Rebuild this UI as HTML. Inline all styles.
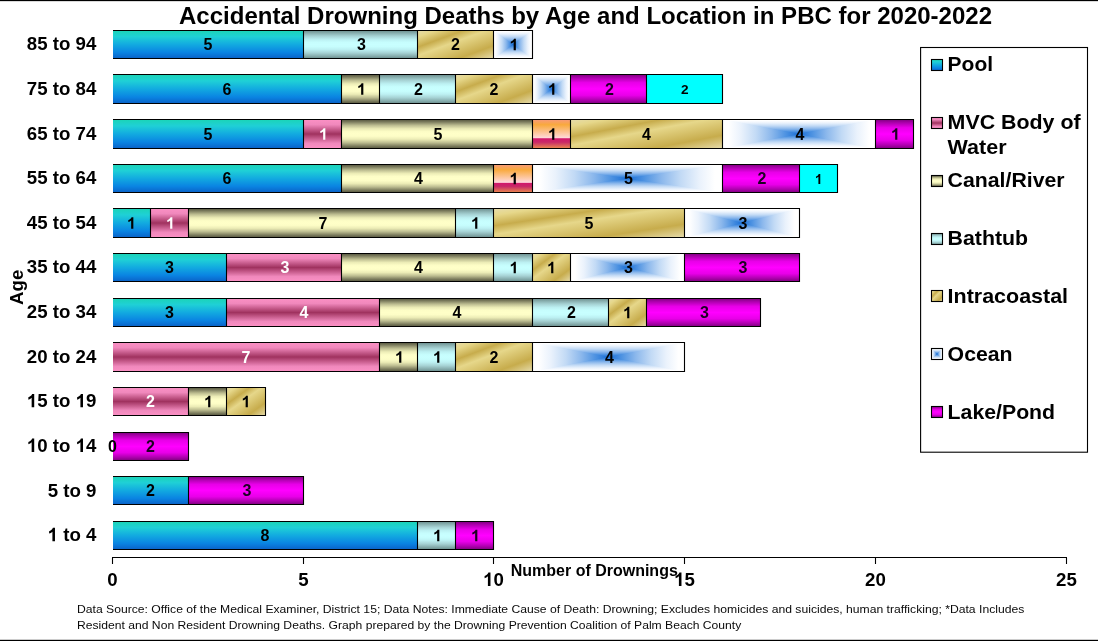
<!DOCTYPE html>
<html><head><meta charset="utf-8"><title>Chart</title>
<style>html,body{margin:0;padding:0;background:#fff}svg{display:block;will-change:transform}</style></head>
<body>
<svg width="1098" height="641" viewBox="0 0 1098 641" font-family="Liberation Sans, sans-serif" font-weight="bold">
<defs><linearGradient id="pool" x1="0" y1="0" x2="0" y2="1"><stop offset="0" stop-color="#1bd4b6"/><stop offset="0.22" stop-color="#1fd0d6"/><stop offset="0.5" stop-color="#12aae0"/><stop offset="0.78" stop-color="#0a84e2"/><stop offset="1" stop-color="#0a62c8"/></linearGradient><linearGradient id="mvc" x1="0" y1="0" x2="0" y2="1"><stop offset="0" stop-color="#fb90c4"/><stop offset="0.18" stop-color="#f088bc"/><stop offset="0.5" stop-color="#a0325f"/><stop offset="0.82" stop-color="#f088bc"/><stop offset="1" stop-color="#fb90c4"/></linearGradient><linearGradient id="canal" x1="0" y1="0" x2="0" y2="1"><stop offset="0" stop-color="#55553e"/><stop offset="0.08" stop-color="#7a7a5c"/><stop offset="0.2" stop-color="#bcbc90"/><stop offset="0.32" stop-color="#ececb6"/><stop offset="0.42" stop-color="#fdfdc6"/><stop offset="0.5" stop-color="#ffffc8"/><stop offset="0.58" stop-color="#fdfdc6"/><stop offset="0.68" stop-color="#ececb6"/><stop offset="0.8" stop-color="#bcbc90"/><stop offset="0.92" stop-color="#7a7a5c"/><stop offset="1" stop-color="#55553e"/></linearGradient><linearGradient id="bath" x1="0" y1="0" x2="0" y2="1"><stop offset="0" stop-color="#6a8c8c"/><stop offset="0.08" stop-color="#84aaaa"/><stop offset="0.2" stop-color="#a6d2d4"/><stop offset="0.32" stop-color="#bcf0f2"/><stop offset="0.42" stop-color="#c6fdfd"/><stop offset="0.5" stop-color="#c8ffff"/><stop offset="0.58" stop-color="#c6fdfd"/><stop offset="0.68" stop-color="#bcf0f2"/><stop offset="0.8" stop-color="#a6d2d4"/><stop offset="0.92" stop-color="#84aaaa"/><stop offset="1" stop-color="#6a8c8c"/></linearGradient><linearGradient id="lake" x1="0" y1="0" x2="0" y2="1"><stop offset="0" stop-color="#800080"/><stop offset="0.12" stop-color="#b000b0"/><stop offset="0.28" stop-color="#e800e8"/><stop offset="0.5" stop-color="#ff00ff"/><stop offset="0.72" stop-color="#e800e8"/><stop offset="0.88" stop-color="#b000b0"/><stop offset="1" stop-color="#800080"/></linearGradient><linearGradient id="sun" x1="0" y1="0" x2="0" y2="1"><stop offset="0" stop-color="#f79a7c"/><stop offset="0.18" stop-color="#f9a93c"/><stop offset="0.64" stop-color="#ffd9dc"/><stop offset="0.66" stop-color="#d2176a"/><stop offset="0.78" stop-color="#c82868"/><stop offset="1" stop-color="#ea8a4e"/></linearGradient><linearGradient id="intra" x1="0" y1="0" x2="1" y2="1"><stop offset="0" stop-color="#e6dcac"/><stop offset="0.12" stop-color="#e6d78a"/><stop offset="0.3" stop-color="#c7ac4c"/><stop offset="0.45" stop-color="#e6d78a"/><stop offset="0.77" stop-color="#c7ac4c"/><stop offset="1" stop-color="#e6dcac"/></linearGradient><linearGradient id="ocH" x1="0" y1="0" x2="1" y2="0"><stop offset="0" stop-color="#ffffff"/><stop offset="0.04" stop-color="#ffffff"/><stop offset="0.12" stop-color="#eaf2fc"/><stop offset="0.22" stop-color="#c2daf5"/><stop offset="0.32" stop-color="#8cb8ec"/><stop offset="0.41" stop-color="#5094e2"/><stop offset="0.5" stop-color="#1a6fd6"/><stop offset="0.59" stop-color="#5094e2"/><stop offset="0.68" stop-color="#8cb8ec"/><stop offset="0.78" stop-color="#c2daf5"/><stop offset="0.88" stop-color="#eaf2fc"/><stop offset="0.96" stop-color="#ffffff"/><stop offset="1" stop-color="#ffffff"/></linearGradient><linearGradient id="ocV" x1="0" y1="0" x2="0" y2="1"><stop offset="0" stop-color="#ffffff"/><stop offset="0.04" stop-color="#ffffff"/><stop offset="0.12" stop-color="#eaf2fc"/><stop offset="0.22" stop-color="#c2daf5"/><stop offset="0.32" stop-color="#8cb8ec"/><stop offset="0.41" stop-color="#5094e2"/><stop offset="0.5" stop-color="#1a6fd6"/><stop offset="0.59" stop-color="#5094e2"/><stop offset="0.68" stop-color="#8cb8ec"/><stop offset="0.78" stop-color="#c2daf5"/><stop offset="0.88" stop-color="#eaf2fc"/><stop offset="0.96" stop-color="#ffffff"/><stop offset="1" stop-color="#ffffff"/></linearGradient></defs>
<rect width="1098" height="641" fill="#fff"/>
<rect x="0" y="0" width="1098" height="1.15" fill="#000"/>
<rect x="0" y="639.8" width="1098" height="1.2" fill="#000"/>
<text x="179" y="23.8" font-size="23.5" textLength="813" lengthAdjust="spacingAndGlyphs">Accidental Drowning Deaths by Age and Location in PBC for 2020-2022</text>
<text x="26.87" y="50.25" font-size="18.67" fill="#000" style="white-space:pre">85 to 94</text>
<rect x="113.00" y="30.50" width="190.50" height="28.00" fill="url(#pool)"/>
<rect x="303.50" y="30.50" width="114.00" height="28.00" fill="url(#bath)"/>
<rect x="417.50" y="30.50" width="76.00" height="28.00" fill="url(#intra)"/>
<rect x="493.50" y="30.50" width="39.00" height="28.00" fill="url(#ocH)"/><path d="M493.50 30.50L532.50 30.50L513.00 44.50L532.50 58.50L493.50 58.50L513.00 44.50Z" fill="url(#ocV)"/>
<path d="M113 30.5H533.05M113 58.5H533.05M303.50 30.5V58.5M417.50 30.5V58.5M493.50 30.5V58.5M532.50 30.5V58.5" stroke="#000" stroke-width="1.1" fill="none"/>
<text x="203.55" y="50.20" font-size="16" fill="#000" style="white-space:pre">5</text>
<text x="357.05" y="50.20" font-size="16" fill="#000" style="white-space:pre">3</text>
<text x="451.05" y="50.20" font-size="16" fill="#000" style="white-space:pre">2</text>
<path transform="translate(509.55,50.20) scale(0.007812,-0.007812)" d="M806 0H525V1059Q371 915 162 846V1101Q272 1137 401 1237.5Q530 1338 578 1472H806Z" fill="#000"/>
<text x="26.87" y="94.89" font-size="18.67" fill="#000" style="white-space:pre">75 to 84</text>
<rect x="113.00" y="74.50" width="228.50" height="29.00" fill="url(#pool)"/>
<rect x="341.50" y="74.50" width="38.00" height="29.00" fill="url(#canal)"/>
<rect x="379.50" y="74.50" width="76.00" height="29.00" fill="url(#bath)"/>
<rect x="455.50" y="74.50" width="77.00" height="29.00" fill="url(#intra)"/>
<rect x="532.50" y="74.50" width="38.00" height="29.00" fill="url(#ocH)"/><path d="M532.50 74.50L570.50 74.50L551.50 89.00L570.50 103.50L532.50 103.50L551.50 89.00Z" fill="url(#ocV)"/>
<rect x="570.50" y="74.50" width="76.00" height="29.00" fill="url(#lake)"/>
<rect x="646.50" y="74.50" width="76.00" height="29.00" fill="#00ffff"/>
<path d="M113 74.5H723.05M113 103.5H723.05M341.50 74.5V103.5M379.50 74.5V103.5M455.50 74.5V103.5M532.50 74.5V103.5M570.50 74.5V103.5M646.50 74.5V103.5M722.50 74.5V103.5" stroke="#000" stroke-width="1.1" fill="none"/>
<text x="222.55" y="94.70" font-size="16" fill="#000" style="white-space:pre">6</text>
<path transform="translate(357.05,94.70) scale(0.007812,-0.007812)" d="M806 0H525V1059Q371 915 162 846V1101Q272 1137 401 1237.5Q530 1338 578 1472H806Z" fill="#000"/>
<text x="414.05" y="94.70" font-size="16" fill="#000" style="white-space:pre">2</text>
<text x="489.55" y="94.70" font-size="16" fill="#000" style="white-space:pre">2</text>
<path transform="translate(548.05,94.70) scale(0.007812,-0.007812)" d="M806 0H525V1059Q371 915 162 846V1101Q272 1137 401 1237.5Q530 1338 578 1472H806Z" fill="#000"/>
<text x="605.05" y="94.70" font-size="16" fill="#1c0022" style="white-space:pre">2</text>
<text x="680.92" y="94.40" font-size="13.6" fill="#000" style="white-space:pre">2</text>
<text x="26.87" y="139.53" font-size="18.67" fill="#000" style="white-space:pre">65 to 74</text>
<rect x="113.00" y="119.50" width="190.50" height="29.00" fill="url(#pool)"/>
<rect x="303.50" y="119.50" width="38.00" height="29.00" fill="url(#mvc)"/>
<rect x="341.50" y="119.50" width="191.00" height="29.00" fill="url(#canal)"/>
<rect x="532.50" y="119.50" width="38.00" height="29.00" fill="url(#sun)"/>
<rect x="570.50" y="119.50" width="152.00" height="29.00" fill="url(#intra)"/>
<rect x="722.50" y="119.50" width="153.00" height="29.00" fill="url(#ocH)"/><path d="M722.50 119.50L875.50 119.50L799.00 134.00L875.50 148.50L722.50 148.50L799.00 134.00Z" fill="url(#ocV)"/>
<rect x="875.50" y="119.50" width="38.00" height="29.00" fill="url(#lake)"/>
<path d="M113 119.5H914.05M113 148.5H914.05M303.50 119.5V148.5M341.50 119.5V148.5M532.50 119.5V148.5M570.50 119.5V148.5M722.50 119.5V148.5M875.50 119.5V148.5M913.50 119.5V148.5" stroke="#000" stroke-width="1.1" fill="none"/>
<text x="203.55" y="139.70" font-size="16" fill="#000" style="white-space:pre">5</text>
<path transform="translate(319.05,139.70) scale(0.007812,-0.007812)" d="M806 0H525V1059Q371 915 162 846V1101Q272 1137 401 1237.5Q530 1338 578 1472H806Z" fill="#fff"/>
<text x="433.55" y="139.70" font-size="16" fill="#000" style="white-space:pre">5</text>
<path transform="translate(548.05,139.70) scale(0.007812,-0.007812)" d="M806 0H525V1059Q371 915 162 846V1101Q272 1137 401 1237.5Q530 1338 578 1472H806Z" fill="#000"/>
<text x="642.05" y="139.70" font-size="16" fill="#000" style="white-space:pre">4</text>
<text x="795.55" y="139.70" font-size="16" fill="#000" style="white-space:pre">4</text>
<path transform="translate(891.05,139.70) scale(0.007812,-0.007812)" d="M806 0H525V1059Q371 915 162 846V1101Q272 1137 401 1237.5Q530 1338 578 1472H806Z" fill="#1c0022"/>
<text x="26.87" y="184.17" font-size="18.67" fill="#000" style="white-space:pre">55 to 64</text>
<rect x="113.00" y="164.50" width="228.50" height="28.00" fill="url(#pool)"/>
<rect x="341.50" y="164.50" width="152.00" height="28.00" fill="url(#canal)"/>
<rect x="493.50" y="164.50" width="39.00" height="28.00" fill="url(#sun)"/>
<rect x="532.50" y="164.50" width="190.00" height="28.00" fill="url(#ocH)"/><path d="M532.50 164.50L722.50 164.50L627.50 178.50L722.50 192.50L532.50 192.50L627.50 178.50Z" fill="url(#ocV)"/>
<rect x="722.50" y="164.50" width="77.00" height="28.00" fill="url(#lake)"/>
<rect x="799.50" y="164.50" width="38.00" height="28.00" fill="#00ffff"/>
<path d="M113 164.5H838.05M113 192.5H838.05M341.50 164.5V192.5M493.50 164.5V192.5M532.50 164.5V192.5M722.50 164.5V192.5M799.50 164.5V192.5M837.50 164.5V192.5" stroke="#000" stroke-width="1.1" fill="none"/>
<text x="222.55" y="184.20" font-size="16" fill="#000" style="white-space:pre">6</text>
<text x="414.05" y="184.20" font-size="16" fill="#000" style="white-space:pre">4</text>
<path transform="translate(509.55,184.20) scale(0.007812,-0.007812)" d="M806 0H525V1059Q371 915 162 846V1101Q272 1137 401 1237.5Q530 1338 578 1472H806Z" fill="#000"/>
<text x="624.05" y="184.20" font-size="16" fill="#000" style="white-space:pre">5</text>
<text x="757.55" y="184.20" font-size="16" fill="#1c0022" style="white-space:pre">2</text>
<path transform="translate(814.92,183.90) scale(0.006641,-0.006641)" d="M806 0H525V1059Q371 915 162 846V1101Q272 1137 401 1237.5Q530 1338 578 1472H806Z" fill="#000"/>
<text x="26.87" y="228.81" font-size="18.67" fill="#000" style="white-space:pre">45 to 54</text>
<rect x="113.00" y="208.50" width="37.50" height="29.00" fill="url(#pool)"/>
<rect x="150.50" y="208.50" width="38.00" height="29.00" fill="url(#mvc)"/>
<rect x="188.50" y="208.50" width="267.00" height="29.00" fill="url(#canal)"/>
<rect x="455.50" y="208.50" width="38.00" height="29.00" fill="url(#bath)"/>
<rect x="493.50" y="208.50" width="191.00" height="29.00" fill="url(#intra)"/>
<rect x="684.50" y="208.50" width="115.00" height="29.00" fill="url(#ocH)"/><path d="M684.50 208.50L799.50 208.50L742.00 223.00L799.50 237.50L684.50 237.50L742.00 223.00Z" fill="url(#ocV)"/>
<path d="M113 208.5H800.05M113 237.5H800.05M150.50 208.5V237.5M188.50 208.5V237.5M455.50 208.5V237.5M493.50 208.5V237.5M684.50 208.5V237.5M799.50 208.5V237.5" stroke="#000" stroke-width="1.1" fill="none"/>
<path transform="translate(127.05,228.70) scale(0.007812,-0.007812)" d="M806 0H525V1059Q371 915 162 846V1101Q272 1137 401 1237.5Q530 1338 578 1472H806Z" fill="#000"/>
<path transform="translate(166.05,228.70) scale(0.007812,-0.007812)" d="M806 0H525V1059Q371 915 162 846V1101Q272 1137 401 1237.5Q530 1338 578 1472H806Z" fill="#fff"/>
<text x="318.55" y="228.70" font-size="16" fill="#000" style="white-space:pre">7</text>
<path transform="translate(471.05,228.70) scale(0.007812,-0.007812)" d="M806 0H525V1059Q371 915 162 846V1101Q272 1137 401 1237.5Q530 1338 578 1472H806Z" fill="#000"/>
<text x="584.55" y="228.70" font-size="16" fill="#000" style="white-space:pre">5</text>
<text x="738.55" y="228.70" font-size="16" fill="#000" style="white-space:pre">3</text>
<text x="26.87" y="273.45" font-size="18.67" fill="#000" style="white-space:pre">35 to 44</text>
<rect x="113.00" y="253.50" width="113.50" height="28.00" fill="url(#pool)"/>
<rect x="226.50" y="253.50" width="115.00" height="28.00" fill="url(#mvc)"/>
<rect x="341.50" y="253.50" width="152.00" height="28.00" fill="url(#canal)"/>
<rect x="493.50" y="253.50" width="39.00" height="28.00" fill="url(#bath)"/>
<rect x="532.50" y="253.50" width="38.00" height="28.00" fill="url(#intra)"/>
<rect x="570.50" y="253.50" width="114.00" height="28.00" fill="url(#ocH)"/><path d="M570.50 253.50L684.50 253.50L627.50 267.50L684.50 281.50L570.50 281.50L627.50 267.50Z" fill="url(#ocV)"/>
<rect x="684.50" y="253.50" width="115.00" height="28.00" fill="url(#lake)"/>
<path d="M113 253.5H800.05M113 281.5H800.05M226.50 253.5V281.5M341.50 253.5V281.5M493.50 253.5V281.5M532.50 253.5V281.5M570.50 253.5V281.5M684.50 253.5V281.5M799.50 253.5V281.5" stroke="#000" stroke-width="1.1" fill="none"/>
<text x="165.05" y="273.20" font-size="16" fill="#000" style="white-space:pre">3</text>
<text x="280.55" y="273.20" font-size="16" fill="#fff" style="white-space:pre">3</text>
<text x="414.05" y="273.20" font-size="16" fill="#000" style="white-space:pre">4</text>
<path transform="translate(509.55,273.20) scale(0.007812,-0.007812)" d="M806 0H525V1059Q371 915 162 846V1101Q272 1137 401 1237.5Q530 1338 578 1472H806Z" fill="#000"/>
<path transform="translate(547.05,273.20) scale(0.007812,-0.007812)" d="M806 0H525V1059Q371 915 162 846V1101Q272 1137 401 1237.5Q530 1338 578 1472H806Z" fill="#000"/>
<text x="624.05" y="273.20" font-size="16" fill="#000" style="white-space:pre">3</text>
<text x="738.55" y="273.20" font-size="16" fill="#1c0022" style="white-space:pre">3</text>
<text x="26.87" y="318.09" font-size="18.67" fill="#000" style="white-space:pre">25 to 34</text>
<rect x="113.00" y="298.50" width="113.50" height="28.00" fill="url(#pool)"/>
<rect x="226.50" y="298.50" width="153.00" height="28.00" fill="url(#mvc)"/>
<rect x="379.50" y="298.50" width="153.00" height="28.00" fill="url(#canal)"/>
<rect x="532.50" y="298.50" width="76.00" height="28.00" fill="url(#bath)"/>
<rect x="608.50" y="298.50" width="38.00" height="28.00" fill="url(#intra)"/>
<rect x="646.50" y="298.50" width="114.00" height="28.00" fill="url(#lake)"/>
<path d="M113 298.5H761.05M113 326.5H761.05M226.50 298.5V326.5M379.50 298.5V326.5M532.50 298.5V326.5M608.50 298.5V326.5M646.50 298.5V326.5M760.50 298.5V326.5" stroke="#000" stroke-width="1.1" fill="none"/>
<text x="165.05" y="318.20" font-size="16" fill="#000" style="white-space:pre">3</text>
<text x="299.55" y="318.20" font-size="16" fill="#fff" style="white-space:pre">4</text>
<text x="452.55" y="318.20" font-size="16" fill="#000" style="white-space:pre">4</text>
<text x="567.05" y="318.20" font-size="16" fill="#000" style="white-space:pre">2</text>
<path transform="translate(623.05,318.20) scale(0.007812,-0.007812)" d="M806 0H525V1059Q371 915 162 846V1101Q272 1137 401 1237.5Q530 1338 578 1472H806Z" fill="#000"/>
<text x="700.05" y="318.20" font-size="16" fill="#1c0022" style="white-space:pre">3</text>
<text x="26.87" y="362.73" font-size="18.67" fill="#000" style="white-space:pre">20 to 24</text>
<rect x="113.00" y="342.50" width="266.50" height="29.00" fill="url(#mvc)"/>
<rect x="379.50" y="342.50" width="38.00" height="29.00" fill="url(#canal)"/>
<rect x="417.50" y="342.50" width="38.00" height="29.00" fill="url(#bath)"/>
<rect x="455.50" y="342.50" width="77.00" height="29.00" fill="url(#intra)"/>
<rect x="532.50" y="342.50" width="152.00" height="29.00" fill="url(#ocH)"/><path d="M532.50 342.50L684.50 342.50L608.50 357.00L684.50 371.50L532.50 371.50L608.50 357.00Z" fill="url(#ocV)"/>
<path d="M113 342.5H685.05M113 371.5H685.05M379.50 342.5V371.5M417.50 342.5V371.5M455.50 342.5V371.5M532.50 342.5V371.5M684.50 342.5V371.5" stroke="#000" stroke-width="1.1" fill="none"/>
<text x="241.55" y="362.70" font-size="16" fill="#fff" style="white-space:pre">7</text>
<path transform="translate(395.05,362.70) scale(0.007812,-0.007812)" d="M806 0H525V1059Q371 915 162 846V1101Q272 1137 401 1237.5Q530 1338 578 1472H806Z" fill="#000"/>
<path transform="translate(433.05,362.70) scale(0.007812,-0.007812)" d="M806 0H525V1059Q371 915 162 846V1101Q272 1137 401 1237.5Q530 1338 578 1472H806Z" fill="#000"/>
<text x="489.55" y="362.70" font-size="16" fill="#000" style="white-space:pre">2</text>
<text x="605.05" y="362.70" font-size="16" fill="#000" style="white-space:pre">4</text>
<path transform="translate(26.87,407.37) scale(0.009116,-0.009116)" d="M806 0H525V1059Q371 915 162 846V1101Q272 1137 401 1237.5Q530 1338 578 1472H806Z" fill="#000"/><text x="37.25" y="407.37" font-size="18.67" fill="#000" style="white-space:pre">5 to </text><path transform="translate(75.64,407.37) scale(0.009116,-0.009116)" d="M806 0H525V1059Q371 915 162 846V1101Q272 1137 401 1237.5Q530 1338 578 1472H806Z" fill="#000"/><text x="86.02" y="407.37" font-size="18.67" fill="#000" style="white-space:pre">9</text>
<rect x="113.00" y="387.50" width="75.50" height="28.00" fill="url(#mvc)"/>
<rect x="188.50" y="387.50" width="38.00" height="28.00" fill="url(#canal)"/>
<rect x="226.50" y="387.50" width="39.00" height="28.00" fill="url(#intra)"/>
<path d="M113 387.5H266.05M113 415.5H266.05M188.50 387.5V415.5M226.50 387.5V415.5M265.50 387.5V415.5" stroke="#000" stroke-width="1.1" fill="none"/>
<text x="146.05" y="407.20" font-size="16" fill="#fff" style="white-space:pre">2</text>
<path transform="translate(204.05,407.20) scale(0.007812,-0.007812)" d="M806 0H525V1059Q371 915 162 846V1101Q272 1137 401 1237.5Q530 1338 578 1472H806Z" fill="#000"/>
<path transform="translate(241.55,407.20) scale(0.007812,-0.007812)" d="M806 0H525V1059Q371 915 162 846V1101Q272 1137 401 1237.5Q530 1338 578 1472H806Z" fill="#000"/>
<path transform="translate(26.87,452.01) scale(0.009116,-0.009116)" d="M806 0H525V1059Q371 915 162 846V1101Q272 1137 401 1237.5Q530 1338 578 1472H806Z" fill="#000"/><text x="37.25" y="452.01" font-size="18.67" fill="#000" style="white-space:pre">0 to </text><path transform="translate(75.64,452.01) scale(0.009116,-0.009116)" d="M806 0H525V1059Q371 915 162 846V1101Q272 1137 401 1237.5Q530 1338 578 1472H806Z" fill="#000"/><text x="86.02" y="452.01" font-size="18.67" fill="#000" style="white-space:pre">4</text>
<rect x="113.00" y="432.50" width="75.50" height="28.00" fill="url(#lake)"/>
<path d="M113 432.5H189.05M113 460.5H189.05M188.50 432.5V460.5" stroke="#000" stroke-width="1.1" fill="none"/>
<text x="146.05" y="452.20" font-size="16" fill="#1c0022" style="white-space:pre">2</text>
<text x="112.4" y="452.2" font-size="16" text-anchor="middle">0</text>
<text x="47.63" y="496.65" font-size="18.67" fill="#000" style="white-space:pre">5 to 9</text>
<rect x="113.00" y="476.50" width="75.50" height="28.00" fill="url(#pool)"/>
<rect x="188.50" y="476.50" width="115.00" height="28.00" fill="url(#lake)"/>
<path d="M113 476.5H304.05M113 504.5H304.05M188.50 476.5V504.5M303.50 476.5V504.5" stroke="#000" stroke-width="1.1" fill="none"/>
<text x="146.05" y="496.20" font-size="16" fill="#000" style="white-space:pre">2</text>
<text x="242.55" y="496.20" font-size="16" fill="#1c0022" style="white-space:pre">3</text>
<path transform="translate(47.63,541.29) scale(0.009116,-0.009116)" d="M806 0H525V1059Q371 915 162 846V1101Q272 1137 401 1237.5Q530 1338 578 1472H806Z" fill="#000"/><text x="58.01" y="541.29" font-size="18.67" fill="#000" style="white-space:pre"> to 4</text>
<rect x="113.00" y="521.50" width="304.50" height="28.00" fill="url(#pool)"/>
<rect x="417.50" y="521.50" width="38.00" height="28.00" fill="url(#bath)"/>
<rect x="455.50" y="521.50" width="38.00" height="28.00" fill="url(#lake)"/>
<path d="M113 521.5H494.05M113 549.5H494.05M417.50 521.5V549.5M455.50 521.5V549.5M493.50 521.5V549.5" stroke="#000" stroke-width="1.1" fill="none"/>
<text x="260.55" y="541.20" font-size="16" fill="#000" style="white-space:pre">8</text>
<path transform="translate(433.05,541.20) scale(0.007812,-0.007812)" d="M806 0H525V1059Q371 915 162 846V1101Q272 1137 401 1237.5Q530 1338 578 1472H806Z" fill="#000"/>
<path transform="translate(471.05,541.20) scale(0.007812,-0.007812)" d="M806 0H525V1059Q371 915 162 846V1101Q272 1137 401 1237.5Q530 1338 578 1472H806Z" fill="#1c0022"/>
<path d="M112.00 557.5H1067.00" stroke="#000" stroke-width="1.1" fill="none"/>
<path d="M112.50 557.5V564.0" stroke="#000" stroke-width="1.1"/>
<text x="107.31" y="586.00" font-size="18.67" fill="#000" style="white-space:pre">0</text>
<path d="M303.50 557.5V564.0" stroke="#000" stroke-width="1.1"/>
<text x="298.31" y="586.00" font-size="18.67" fill="#000" style="white-space:pre">5</text>
<path d="M493.50 557.5V564.0" stroke="#000" stroke-width="1.1"/>
<path transform="translate(483.12,586.00) scale(0.009116,-0.009116)" d="M806 0H525V1059Q371 915 162 846V1101Q272 1137 401 1237.5Q530 1338 578 1472H806Z" fill="#000"/><text x="493.50" y="586.00" font-size="18.67" fill="#000" style="white-space:pre">0</text>
<path d="M684.50 557.5V564.0" stroke="#000" stroke-width="1.1"/>
<path transform="translate(674.12,586.00) scale(0.009116,-0.009116)" d="M806 0H525V1059Q371 915 162 846V1101Q272 1137 401 1237.5Q530 1338 578 1472H806Z" fill="#000"/><text x="684.50" y="586.00" font-size="18.67" fill="#000" style="white-space:pre">5</text>
<path d="M875.50 557.5V564.0" stroke="#000" stroke-width="1.1"/>
<text x="865.12" y="586.00" font-size="18.67" fill="#000" style="white-space:pre">20</text>
<path d="M1066.50 557.5V564.0" stroke="#000" stroke-width="1.1"/>
<text x="1056.12" y="586.00" font-size="18.67" fill="#000" style="white-space:pre">25</text>
<text x="510.8" y="575.5" font-size="16" textLength="167" lengthAdjust="spacingAndGlyphs">Number of Drownings</text>
<text transform="translate(23,287.3) rotate(-90)" font-size="18.67" text-anchor="middle">Age</text>
<rect x="920.6" y="47.5" width="166.9" height="404.7" fill="#fff" stroke="#000" stroke-width="1.1"/>
<rect x="931.50" y="59.50" width="11.00" height="11.00" fill="url(#pool)"/>
<rect x="931.5" y="59.5" width="11" height="11" fill="none" stroke="#000" stroke-width="1.1"/>
<text x="947.6" y="70.6" font-size="20.2" textLength="45.5" lengthAdjust="spacingAndGlyphs">Pool</text>
<rect x="931.50" y="117.50" width="11.00" height="11.00" fill="url(#mvc)"/>
<rect x="931.5" y="117.5" width="11" height="11" fill="none" stroke="#000" stroke-width="1.1"/>
<text x="947.6" y="128.5" font-size="20.2" textLength="133" lengthAdjust="spacingAndGlyphs">MVC Body of</text>
<rect x="931.50" y="175.50" width="11.00" height="11.00" fill="url(#canal)"/>
<rect x="931.5" y="175.5" width="11" height="11" fill="none" stroke="#000" stroke-width="1.1"/>
<text x="947.6" y="186.5" font-size="20.2" textLength="117" lengthAdjust="spacingAndGlyphs">Canal/River</text>
<rect x="931.50" y="233.50" width="11.00" height="11.00" fill="url(#bath)"/>
<rect x="931.5" y="233.5" width="11" height="11" fill="none" stroke="#000" stroke-width="1.1"/>
<text x="947.6" y="244.6" font-size="20.2" textLength="80.5" lengthAdjust="spacingAndGlyphs">Bathtub</text>
<rect x="931.50" y="290.50" width="11.00" height="11.00" fill="url(#intra)"/>
<rect x="931.5" y="290.5" width="11" height="11" fill="none" stroke="#000" stroke-width="1.1"/>
<text x="947.6" y="302.6" font-size="20.2" textLength="120.5" lengthAdjust="spacingAndGlyphs">Intracoastal</text>
<rect x="931.50" y="348.50" width="11.00" height="11.00" fill="url(#ocH)"/><path d="M931.50 348.50L942.50 348.50L937.00 354.00L942.50 359.50L931.50 359.50L937.00 354.00Z" fill="url(#ocV)"/>
<rect x="931.5" y="348.5" width="11" height="11" fill="none" stroke="#000" stroke-width="1.1"/>
<text x="947.6" y="360.6" font-size="20.2" textLength="65" lengthAdjust="spacingAndGlyphs">Ocean</text>
<rect x="931.50" y="406.50" width="11.00" height="11.00" fill="url(#lake)"/>
<rect x="931.5" y="406.5" width="11" height="11" fill="none" stroke="#000" stroke-width="1.1"/>
<text x="947.6" y="418.6" font-size="20.2" textLength="107.5" lengthAdjust="spacingAndGlyphs">Lake/Pond</text>
<text x="947.6" y="153.6" font-size="20.2" textLength="59" lengthAdjust="spacingAndGlyphs">Water</text>
<g font-weight="normal" font-size="10.9" fill="#0a0a0a">
<text x="77" y="612.9" textLength="947.3" lengthAdjust="spacingAndGlyphs">Data Source: Office of the Medical Examiner, District 15; Data Notes: Immediate Cause of Death: Drowning; Excludes homicides and suicides, human trafficking; *Data Includes</text>
<text x="77" y="628.6" textLength="664.3" lengthAdjust="spacingAndGlyphs">Resident and Non Resident Drowning Deaths. Graph prepared by the Drowning Prevention Coalition of Palm Beach County</text>
</g>
</svg>
</body></html>
